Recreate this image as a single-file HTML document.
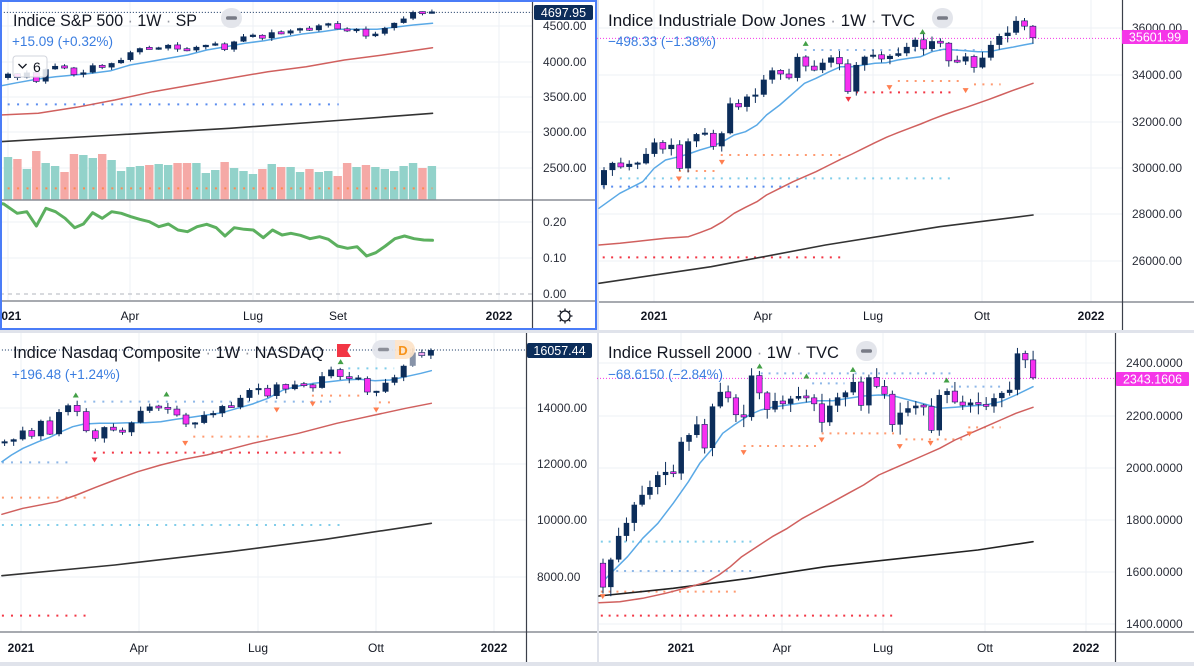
<!DOCTYPE html>
<html><head><meta charset="utf-8">
<style>
html,body{margin:0;padding:0;background:#e0e3eb;}
svg{display:block}
text{font-family:"Liberation Sans",Arial,sans-serif;}
</style></head>
<body>
<svg id="c" width="1194" height="666" viewBox="0 0 1194 666" xmlns="http://www.w3.org/2000/svg">
<rect width="1194" height="666" fill="#e0e3eb"/>
<rect x="0" y="0" width="597" height="330" fill="#fff"/>
<rect x="599" y="0" width="595" height="330" fill="#fff"/>
<rect x="0" y="333" width="597" height="329" fill="#fff"/>
<rect x="599" y="333" width="595" height="329" fill="#fff"/>

<!-- grids -->
<g stroke="#edf0f5" stroke-width="1">
  <line x1="0" x2="532" y1="26" y2="26"/><line x1="0" x2="532" y1="62" y2="62"/><line x1="0" x2="532" y1="97" y2="97"/><line x1="0" x2="532" y1="132" y2="132"/><line x1="0" x2="532" y1="168" y2="168"/>
  <line x1="0" x2="532" y1="222" y2="222"/><line x1="0" x2="532" y1="258" y2="258"/>
  <line x1="8" x2="8" y1="0" y2="300"/><line x1="130" x2="130" y1="0" y2="300"/><line x1="253" x2="253" y1="0" y2="300"/><line x1="338" x2="338" y1="0" y2="300"/><line x1="499" x2="499" y1="0" y2="300"/>
  <line x1="599" x2="1122" y1="28" y2="28"/><line x1="599" x2="1122" y1="75" y2="75"/><line x1="599" x2="1122" y1="122" y2="122"/><line x1="599" x2="1122" y1="168" y2="168"/><line x1="599" x2="1122" y1="214" y2="214"/><line x1="599" x2="1122" y1="261" y2="261"/>
  <line x1="654" x2="654" y1="0" y2="302"/><line x1="763" x2="763" y1="0" y2="302"/><line x1="873" x2="873" y1="0" y2="302"/><line x1="982" x2="982" y1="0" y2="302"/><line x1="1091" x2="1091" y1="0" y2="302"/>
  <line x1="0" x2="526" y1="408" y2="408"/><line x1="0" x2="526" y1="464" y2="464"/><line x1="0" x2="526" y1="520" y2="520"/><line x1="0" x2="526" y1="577" y2="577"/>
  <line x1="21" x2="21" y1="333" y2="632"/><line x1="139" x2="139" y1="333" y2="632"/><line x1="258" x2="258" y1="333" y2="632"/><line x1="376" x2="376" y1="333" y2="632"/><line x1="494" x2="494" y1="333" y2="632"/>
  <line x1="599" x2="1115" y1="363" y2="363"/><line x1="599" x2="1115" y1="416" y2="416"/><line x1="599" x2="1115" y1="468" y2="468"/><line x1="599" x2="1115" y1="520" y2="520"/><line x1="599" x2="1115" y1="572" y2="572"/><line x1="599" x2="1115" y1="624" y2="624"/>
  <line x1="681" x2="681" y1="333" y2="632"/><line x1="782" x2="782" y1="333" y2="632"/><line x1="883" x2="883" y1="333" y2="632"/><line x1="985" x2="985" y1="333" y2="632"/><line x1="1086" x2="1086" y1="333" y2="632"/>
</g>
<line x1="0" x2="532" y1="294" y2="294" stroke="#b2b5be" stroke-width="1" stroke-dasharray="4 4"/>

<g id="dyn"></g>

<!-- axes -->
<g stroke="#8a8d96" stroke-width="1.5">
  <line x1="0" x2="597" y1="200" y2="200"/>
  <line x1="0" x2="597" y1="301" y2="301"/>
  <line x1="599" x2="1194" y1="302" y2="302"/>
  <line x1="0" x2="597" y1="632" y2="632"/>
  <line x1="599" x2="1194" y1="632" y2="632"/>
</g>
<g stroke="#3b3f4a" stroke-width="1.2">
  <line x1="532.5" x2="532.5" y1="0" y2="330"/>
  <line x1="1122.5" x2="1122.5" y1="0" y2="330"/>
  <line x1="526.5" x2="526.5" y1="333" y2="662"/>
  <line x1="1115.5" x2="1115.5" y1="333" y2="662"/>
</g>

<!-- price labels -->
<g font-size="12" fill="#2a2e39">
  <text x="543" y="30">4500.00</text><text x="543" y="66">4000.00</text><text x="543" y="101">3500.00</text><text x="543" y="136">3000.00</text><text x="543" y="172">2500.00</text>
  <text x="543" y="226">0.20</text><text x="543" y="262">0.10</text><text x="543" y="298">0.00</text>
  <text x="1132" y="32">36000.00</text><text x="1132" y="79">34000.00</text><text x="1132" y="126">32000.00</text><text x="1132" y="172">30000.00</text><text x="1132" y="218">28000.00</text><text x="1132" y="265">26000.00</text>
  <text x="537" y="412">14000.00</text><text x="537" y="468">12000.00</text><text x="537" y="524">10000.00</text><text x="537" y="581">8000.00</text>
  <text x="1126" y="367">2400.0000</text><text x="1126" y="420">2200.0000</text><text x="1126" y="472">2000.0000</text><text x="1126" y="524">1800.0000</text><text x="1126" y="576">1600.0000</text><text x="1126" y="628">1400.0000</text>
</g>

<!-- last price labels -->
<rect x="534" y="5" width="59" height="15" rx="2" fill="#0c2d5a"/>
<text x="563.5" y="17" font-size="12.5" fill="#fff" text-anchor="middle">4697.95</text>
<rect x="1122" y="30" width="66" height="14" rx="1" fill="#f536e8"/>
<text x="1155" y="41.5" font-size="12.5" fill="#fff" text-anchor="middle">35601.99</text>
<rect x="527" y="343" width="65" height="15" rx="2" fill="#0c2d5a"/>
<text x="559.5" y="355" font-size="12.5" fill="#fff" text-anchor="middle">16057.44</text>
<rect x="1116" y="372" width="73" height="14" rx="1" fill="#f536e8"/>
<text x="1152.5" y="383.5" font-size="12.5" fill="#fff" text-anchor="middle">2343.1606</text>

<!-- time labels -->
<g font-size="12" fill="#131722" text-anchor="middle">
  <text x="8" y="320" font-weight="bold">2021</text><text x="130" y="320">Apr</text><text x="253" y="320">Lug</text><text x="338" y="320">Set</text><text x="499" y="320" font-weight="bold">2022</text>
  <text x="654" y="320" font-weight="bold">2021</text><text x="763" y="320">Apr</text><text x="873" y="320">Lug</text><text x="982" y="320">Ott</text><text x="1091" y="320" font-weight="bold">2022</text>
  <text x="21" y="652" font-weight="bold">2021</text><text x="139" y="652">Apr</text><text x="258" y="652">Lug</text><text x="376" y="652">Ott</text><text x="494" y="652" font-weight="bold">2022</text>
  <text x="681" y="652" font-weight="bold">2021</text><text x="782" y="652">Apr</text><text x="883" y="652">Lug</text><text x="985" y="652">Ott</text><text x="1086" y="652" font-weight="bold">2022</text>
</g>

<!-- gear -->
<g stroke="#131722" stroke-width="1.3" fill="none">
  <circle cx="565" cy="316" r="5"/>
  <path d="M565 308.5v2.5M565 321v2.5M557.5 316h2.5M570 316h2.5M559.7 310.7l1.8 1.8M568.5 319.5l1.8 1.8M559.7 321.3l1.8-1.8M568.5 312.5l1.8-1.8"/>
</g>

<!-- titles -->
<g font-size="17" fill="#131722">
  <text x="13" y="26" textLength="184" lengthAdjust="spacingAndGlyphs">Indice S&amp;P 500 <tspan fill="#9598a1">·</tspan> 1W <tspan fill="#9598a1">·</tspan> SP</text>
  <text x="608" y="26" textLength="307" lengthAdjust="spacingAndGlyphs">Indice Industriale Dow Jones <tspan fill="#9598a1">·</tspan> 1W <tspan fill="#9598a1">·</tspan> TVC</text>
  <text x="13" y="358" textLength="311" lengthAdjust="spacingAndGlyphs">Indice Nasdaq Composite <tspan fill="#9598a1">·</tspan> 1W <tspan fill="#9598a1">·</tspan> NASDAQ</text>
  <text x="608" y="358" textLength="231" lengthAdjust="spacingAndGlyphs">Indice Russell 2000 <tspan fill="#9598a1">·</tspan> 1W <tspan fill="#9598a1">·</tspan> TVC</text>
</g>
<g font-size="14" fill="#3a7de0">
  <text x="12" y="46" textLength="101" lengthAdjust="spacingAndGlyphs">+15.09 (+0.32%)</text>
  <text x="608" y="46" textLength="108" lengthAdjust="spacingAndGlyphs">−498.33 (−1.38%)</text>
  <text x="12" y="379" textLength="108" lengthAdjust="spacingAndGlyphs">+196.48 (+1.24%)</text>
  <text x="608" y="379" textLength="115" lengthAdjust="spacingAndGlyphs">−68.6150 (−2.84%)</text>
</g>

<!-- pills -->
<rect x="221" y="8" width="21" height="20" rx="10" fill="#e3e5eb"/>
<rect x="226" y="16.3" width="11" height="3.5" rx="1.7" fill="#787b86"/>
<rect x="932" y="8" width="21" height="20" rx="10" fill="#e3e5eb"/>
<rect x="937" y="16.3" width="11" height="3.5" rx="1.7" fill="#787b86"/>
<rect x="856" y="341" width="21" height="20" rx="10" fill="#e3e5eb"/>
<rect x="861" y="349.3" width="11" height="3.5" rx="1.7" fill="#787b86"/>
<path d="M381.5 340h13.5v19h-13.5a9.5 9.5 0 0 1 0-19z" fill="#e3e5eb" opacity="0.92"/>
<path d="M395 340h10.5a9.5 9.5 0 0 1 0 19h-10.5z" fill="#fde3c8" opacity="0.92"/>
<rect x="378" y="347.8" width="11" height="3.5" rx="1.7" fill="#8c8f99"/>
<text x="403" y="355" font-size="13" font-weight="bold" fill="#f7931a" text-anchor="middle">D</text>
<path d="M337 344h14l-4 6.5l4 6.5h-14z" fill="#f23645"/>

<!-- 6 box -->
<rect x="13" y="56" width="34" height="21" rx="3" fill="#fff" fill-opacity="0.85" stroke="#d1d4dc"/>
<path d="M18.5 64l4 4l4-4" stroke="#131722" stroke-width="1.3" fill="none"/>
<text x="33" y="72" font-size="14" fill="#131722">6</text>

<!-- TL selected border -->
<rect x="1" y="1" width="595" height="328" fill="none" stroke="#4a7cf7" stroke-width="2"/>
</svg>

<script>
(function(){
var NS="http://www.w3.org/2000/svg";
var dyn=document.getElementById('dyn');
function E(t,a){var e=document.createElementNS(NS,t);for(var k in a)e.setAttribute(k,a[k]);dyn.appendChild(e);return e;}
var NAVY='#0c2d5a', MAG='#f72ff0';
var TL={ox:0,oy:0,sx:2.613}, TR={ox:597,oy:0,sx:2.626}, BL={ox:0,oy:330,sx:2.613}, BR={ox:597,oy:330,sx:2.626};
function pl(pts,P,col,w){E('polyline',{points:pts.map(function(q){return (P.ox+q[0]/P.sx).toFixed(1)+','+(P.oy+q[1]/3).toFixed(1);}).join(' '),fill:'none',stroke:col,'stroke-width':w,'stroke-linejoin':'round','stroke-linecap':'round'});}
function dots(list,P,dx){list.forEach(function(d){var y=P.oy+d[0]/3;E('line',{x1:P.ox+d[1]/P.sx,x2:P.ox+d[2]/P.sx,y1:y,y2:y,stroke:d[3],'stroke-width':2,'stroke-dasharray':'2 '+(dx-2).toFixed(2)});});}
function pline(P,zy,zx1,zx2,col){var y=P.oy+zy/3;E('line',{x1:P.ox+zx1/P.sx,x2:P.ox+zx2/P.sx,y1:y,y2:y,stroke:col,'stroke-width':1,'stroke-dasharray':'1 2'});}
function tri(list,P){list.forEach(function(t){var x=P.ox+t[0]/P.sx,y=P.oy+t[1]/3;var c=t[2];
 if(c==='u')E('path',{d:'M'+(x-3)+' '+(y+2.5)+'L'+(x+3)+' '+(y+2.5)+'L'+x+' '+(y-2.5)+'Z',fill:'#43a047'});
 else E('path',{d:'M'+(x-3)+' '+(y-2.5)+'L'+(x+3)+' '+(y-2.5)+'L'+x+' '+(y+2.5)+'Z',fill:c==='r'?'#f23645':'#ff7f50'});});}
function candles(p){var o=p.o0;p.c.forEach(function(c,i){var x=p.x0+i*p.dx;
 var r1=((i*7+3)%10)/10, r2=((i*13+5)%10)/10;
 var hi=Math.max(o,c)+p.wk*(0.2+r1), lo=Math.min(o,c)-p.wk*(0.2+r2);
 var up=c>=o;var col=(p.cols&&p.cols[i])||(up?NAVY:MAG);
 E('line',{x1:x,x2:x,y1:p.y(hi),y2:p.y(lo),stroke:NAVY,'stroke-width':1});
 var yt=p.y(Math.max(o,c)), yb=p.y(Math.min(o,c));
 var h=yb-yt; var mh=p.mh||1.6; if(h<mh){yt-=(mh-h)/2; h=mh;}
 E('rect',{x:x-p.w/2,y:yt,width:p.w,height:h,fill:col,stroke:up?'none':NAVY,'stroke-width':up?0:0.6});
 o=c;});}
var LB='#8fb8e8', CY='#7fcdea', OR='#ff9a70', RD='#f23645', BLU='#5b8def';

/* TL S&P */
var spC=[3824,3768,3841,3714,3887,3934,3906,3811,3842,3943,3913,3974,4019,4128,4185,4180,4181,4232,4173,4155,4204,4229,4247,4166,4280,4352,4369,4327,4411,4395,4436,4468,4441,4509,4535,4458,4432,4455,4357,4391,4471,4544,4605,4697,4682,4698];
var vol=[157,159,169,151,163,166,172,154,155,158,154,160,171,167,166,165,164,165,163,163,163,173,170,162,168,171,174,169,164,167,167,172,169,172,171,176,163,167,165,167,169,171,166,163,168,166];
var o0=3764;
spC.forEach(function(c,i){var x=8+i*9.42;E('rect',{x:x-4.2,y:vol[i],width:8.4,height:200-vol[i],fill:c>=o0?'#92d2ca':'#f5a9a6'});o0=c;});
dots([[565,20,1130,'#ff8a50']],TL,9.42);
pline(TL,37,10,1390,NAVY);
dots([[313,20,885,BLU]],TL,9.42);
pl([[0,425],[300,405],[600,385],[900,360],[1130,340]],TL,'#333',1.6);
pl([[0,345],[100,340],[200,322],[300,300],[400,275],[500,255],[600,235],[700,215],[800,200],[900,180],[1000,165],[1130,143]],TL,'#d0605e',1.5);
pl([[0,258],[45,248],[95,238],[145,230],[195,225],[240,220],[290,212],[340,195],[390,185],[440,175],[490,165],[540,150],[590,140],[640,130],[690,122],[740,112],[790,102],[840,95],[885,88],[935,88],[985,88],[1030,82],[1080,75],[1130,70]],TL,'#5aa9e6',1.5);
candles({o0:3764,c:spC,x0:8,dx:9.42,w:6,mh:2.2,wk:35,y:function(p){return 26+(4500-p)*0.0706;}});
pl([[0,610],[10,612],[45,640],[70,635],[95,678],[120,625],[145,635],[170,655],[195,683],[218,672],[242,638],[267,655],[292,635],[317,640],[342,650],[365,658],[390,665],[415,680],[440,672],[465,690],[490,695],[515,680],[540,673],[565,683],[588,708],[612,683],[638,688],[662,690],[688,713],[712,690],[737,705],[760,700],[785,706],[810,716],[835,710],[858,718],[882,738],[908,745],[933,740],[958,768],[982,758],[1007,738],[1032,716],[1057,708],[1082,716],[1107,720],[1130,721]],TL,'#5cb05f',3);

/* TR Dow */
var djC=[29910,30218,30046,30179,30199,30606,31098,30814,30997,29983,31148,31458,31494,30932,31496,32779,32628,33073,33153,33801,34200,34043,33875,34778,34382,34208,34529,34756,34480,33290,34433,34786,34870,34688,34824,34935,35209,35515,35120,35455,35369,34608,34584,34798,34326,34746,35295,35677,35820,36328,36100,35602];
pline(TR,115,0,1378,'#f536e8');
dots([[150,545,1010,LB],[243,790,950,OR],[253,990,1060,OR],[277,680,930,RD],[465,325,640,OR],[513,215,310,OR],[535,60,930,CY],[560,15,530,BLU],[772,15,640,RD]],TR,8.41);
pl([[5,850],[300,800],[600,735],[900,680],[1145,645]],TR,'#333',1.6);
pl([[5,735],[60,730],[120,722],[180,715],[240,710],[270,698],[300,685],[330,665],[360,640],[390,622],[420,605],[445,585],[480,565],[515,545],[545,530],[575,515],[610,495],[640,478],[670,462],[700,445],[730,428],[760,412],[790,398],[820,385],[850,372],[880,358],[910,345],[940,333],[970,322],[1000,310],[1030,298],[1060,285],[1090,272],[1120,260],[1145,250]],TR,'#d0605e',1.5);
pl([[5,625],[60,580],[120,545],[150,505],[180,480],[215,470],[240,462],[270,450],[300,440],[330,425],[360,405],[390,395],[420,375],[445,345],[480,315],[515,280],[545,250],[575,235],[610,215],[640,200],[670,200],[700,195],[730,190],[760,188],[790,180],[820,175],[850,170],[880,155],[910,148],[940,150],[970,152],[1000,155],[1030,155],[1060,148],[1090,142],[1120,135],[1145,130]],TR,'#5aa9e6',1.5);
candles({o0:29263,c:djC,x0:604,dx:8.41,w:6,mh:2,wk:250,y:function(p){return 75+(34000-p)*0.02325;}});
tri([[548,130,'u'],[855,95,'u'],[215,537,'o'],[328,487,'o'],[660,298,'r'],[768,263,'o'],[968,272,'o']],TR);

/* BL Nasdaq */
var nqC=[12805,12888,13202,12998,13543,13071,13856,14095,13874,13192,12920,13320,13215,13139,13480,13900,14052,14016,13962,13752,13430,13471,13749,13814,14069,14030,14360,14639,14701,14427,14837,14673,14835,14823,14715,15129,15364,15115,15044,15048,14567,14580,14897,15090,15498,15971,15861,16057];
pline(BL,60,5,1375,NAVY);
dots([[115,910,1030,CY],[215,220,870,LB],[197,815,945,OR],[217,990,1030,OR],[320,505,700,OR],[368,245,890,RD],[397,5,180,LB],[503,5,225,OR],[585,5,890,CY],[857,5,225,RD]],BL,9.07);
pl([[5,737],[300,705],[600,665],[850,628],[1127,580]],BL,'#333',1.6);
pl([[5,553],[60,535],[150,515],[200,495],[250,472],[300,450],[360,425],[420,405],[480,388],[540,375],[600,358],[660,340],[720,325],[780,310],[830,295],[880,280],[940,265],[1000,250],[1060,235],[1127,220]],BL,'#d0605e',1.5);
pl([[5,395],[30,375],[60,355],[100,335],[130,322],[160,305],[190,290],[220,282],[260,280],[300,280],[340,278],[380,278],[420,275],[460,268],[500,262],[540,255],[580,248],[620,235],[660,222],[700,205],[740,180],[780,168],[820,160],[860,155],[900,150],[940,148],[980,152],[1020,150],[1060,140],[1100,130],[1127,122]],BL,'#5aa9e6',1.5);
candles({o0:12756,c:nqC,x0:4.6,dx:9.07,w:6,mh:2,wk:150,y:function(p){return 408+(14000-p)*0.02817;},cols:{45:'#8793a8',46:'#f0a6ee'}});
tri([[198,195,'u'],[435,192,'u'],[890,95,'u'],[247,390,'r'],[484,340,'o'],[723,240,'o'],[817,222,'o'],[983,240,'o']],BL);

/* BR Russell */
var rtC=[1538,1644,1735,1785,1855,1893,1923,1969,1981,1975,2097,2123,2164,2073,2233,2289,2266,2201,2192,2352,2285,2221,2254,2243,2263,2273,2266,2243,2172,2236,2268,2287,2327,2237,2345,2310,2280,2163,2209,2226,2236,2233,2141,2277,2292,2250,2237,2248,2241,2233,2265,2285,2297,2437,2412,2343];
pline(BR,145,0,1360,'#f536e8');
dots([[130,430,940,LB],[160,565,650,LB],[170,930,1060,LB],[310,590,780,OR],[292,975,1060,OR],[328,810,960,OR],[348,385,575,OR],[635,10,410,CY],[723,30,410,LB],[785,10,370,OR],[857,10,780,RD]],BR,7.82);
pl([[5,798],[200,775],[400,745],[600,710],[800,685],[1000,660],[1145,635]],BR,'#222',1.6);
pl([[5,818],[60,815],[120,805],[180,790],[240,772],[290,755],[320,735],[350,710],[380,680],[420,650],[460,620],[500,595],[540,565],[580,540],[620,515],[660,490],[700,465],[740,435],[780,415],[820,395],[860,375],[900,355],[940,330],[980,310],[1020,290],[1060,270],[1100,250],[1145,232]],BR,'#d0605e',1.5);
pl([[15,755],[45,720],[80,680],[120,625],[160,580],[200,520],[240,455],[270,400],[300,360],[330,310],[360,285],[400,255],[430,240],[460,232],[500,225],[540,218],[580,212],[620,212],[660,205],[700,198],[740,195],[780,198],[820,210],[860,222],[900,235],[940,232],[980,228],[1020,225],[1060,215],[1100,195],[1145,170]],BR,'#5aa9e6',1.5);
candles({o0:1630,c:rtC,x0:603,dx:7.82,w:5.5,mh:2,wk:35,y:function(p){return 363+(2400-p)*0.26;}});
tri([[427,108,'u'],[550,138,'u'],[672,118,'u'],[918,150,'u'],[385,368,'o'],[590,330,'o'],[795,350,'o'],[876,340,'o'],[978,312,'o'],[15,800,'o']],BR);
})();
</script>
</body></html>
